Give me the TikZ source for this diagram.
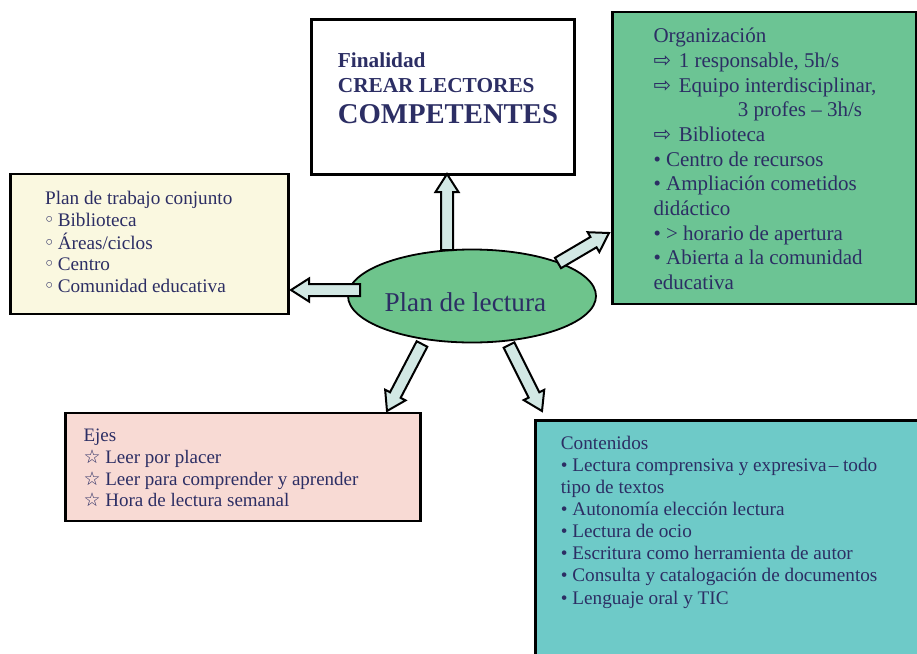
\documentclass[tikz,border=0pt]{standalone}
\usepackage{fontspec}
\setmainfont{Liberation Serif}
\newfontfamily\symfont{DejaVu Sans}
\usetikzlibrary{calc,shapes.geometric}
\definecolor{txt}{RGB}{44,46,100}
\definecolor{cream}{RGB}{250,248,224}
\definecolor{orggreen}{RGB}{108,196,148}
\definecolor{elgreen}{RGB}{110,196,140}
\definecolor{pinkbox}{RGB}{248,218,212}
\definecolor{tealbox}{RGB}{110,202,200}
\definecolor{arrowfill}{RGB}{210,232,228}
\tikzset{
  box/.style={draw=black, line width=2.5pt, inner sep=0pt, anchor=north west},
  txtnode/.style={anchor=base west, inner sep=0pt, text=txt},
  blk/.style={draw=black, line width=2pt, fill=arrowfill, line join=miter},
}
\newcommand\blkarrow[2]{%
  \coordinate (hb) at ($(#2)!18pt!(#1)$);
  \draw[blk] ($(#1)!6pt!90:(#2)$) -- ($(hb)!6pt!90:(#2)$) -- ($(hb)!11.5pt!90:(#2)$)
    -- (#2) -- ($(hb)!11.5pt!-90:(#2)$) -- ($(hb)!6pt!-90:(#2)$) -- ($(#1)!6pt!-90:(#2)$) -- cycle;}
\newcommand\arr{{\symfont ⇨}\kern2.5pt}
\newcommand\wstar{{\symfont ☆}}
\newcommand\wbul{{\symfont\kern-1.5pt◦\kern-2pt}}
\begin{document}
\begin{tikzpicture}[x=1pt,y=-1pt]
\useasboundingbox (0,0) rectangle (917,653);
\clip (0,0) rectangle (917,653);
\fill[white] (0,0) rectangle (917,653);

% boxes
\node[box, fill=white, minimum width=263pt, minimum height=155pt] (fin) at (310,18.3) {};
\node[box, fill=orggreen, minimum width=304pt, minimum height=292pt] (org) at (611,10.7) {};
\node[box, fill=cream, minimum width=278pt, minimum height=140pt] (trab) at (9.3,172.7) {};
\node[box, fill=pinkbox, minimum width=355pt, minimum height=108pt] (ejes) at (64,411.7) {};
\node[box, fill=tealbox, minimum width=420pt, minimum height=260pt] (cont) at (534,419.3) {};

% ellipse
\node[draw=black, line width=1.8pt, ellipse, fill=elgreen, minimum width=248pt, minimum height=93pt] (el) at (472,296) {};

% texts
\node[txtnode, font=\fontsize{21.3}{25}\selectfont\bfseries] (fintxt) at (337.7,67.3)
  {\begin{tabular}[t]{@{}l@{}}Finalidad\\CREAR LECTORES\end{tabular}};
\node[txtnode, font=\fontsize{28.7}{30}\selectfont\bfseries] (fintxt2) at (337.7,123.3) {COMPETENTES};

\node[txtnode, font=\fontsize{21}{24.66}\selectfont] (orgtxt) at (653.3,42.8)
  {\begin{tabular}[t]{@{}l@{}}Organización\\
  \arr\ 1 responsable, 5h/s\\
  \arr\ Equipo interdisciplinar,\\
  \hspace*{84.4pt}3 profes – 3h/s\\
  \arr\ Biblioteca\\
  • Centro de recursos\\
  • Ampliación cometidos\\
  didáctico\\
  • > horario de apertura\\
  • Abierta a la comunidad\\
  educativa\end{tabular}};

\node[txtnode, font=\fontsize{19.2}{21.75}\selectfont] (trabtxt) at (45,204.3)
  {\begin{tabular}[t]{@{}l@{}}Plan de trabajo conjunto\\
  \wbul\ Biblioteca\\
  \wbul\ Áreas/ciclos\\
  \wbul\ Centro\\
  \wbul\ Comunidad educativa\end{tabular}};

\node[txtnode, font=\fontsize{19}{21.7}\selectfont] (ejestxt) at (83.3,441.7)
  {\begin{tabular}[t]{@{}l@{}}Ejes\\
  \wstar\ Leer por placer\\
  \wstar\ Leer para comprender y aprender\\
  \wstar\ Hora de lectura semanal\end{tabular}};

\node[txtnode, font=\fontsize{19.2}{22.1}\selectfont] (conttxt) at (560.7,449.3)
  {\begin{tabular}[t]{@{}l@{}}Contenidos\\
  • Lectura comprensiva y expresiva\kern2pt– todo\\
  tipo de textos\\
  • Autonomía elección lectura\\
  • Lectura de ocio\\
  • Escritura como herramienta de autor\\
  • Consulta y catalogación de documentos\\
  • Lenguaje oral y TIC\end{tabular}};

\node[txtnode, font=\fontsize{27.2}{30}\selectfont] (eltxt) at (384.3,311.7) {Plan de lectura};

% arrow end points
\coordinate (upS) at (447,250);   \coordinate (upE) at (447,174);
\coordinate (lfS) at (360,290);   \coordinate (lfE) at (291,290);
\coordinate (ruS) at (558,263);   \coordinate (ruE) at (609,233);
\coordinate (dlS) at (422,344);   \coordinate (dlE) at (387,411);
\coordinate (drS) at (509,345);   \coordinate (drE) at (542,411);

\blkarrow{upS}{upE}
\blkarrow{lfS}{lfE}
\blkarrow{ruS}{ruE}
\blkarrow{dlS}{dlE}
\blkarrow{drS}{drE}
\end{tikzpicture}
\end{document}
